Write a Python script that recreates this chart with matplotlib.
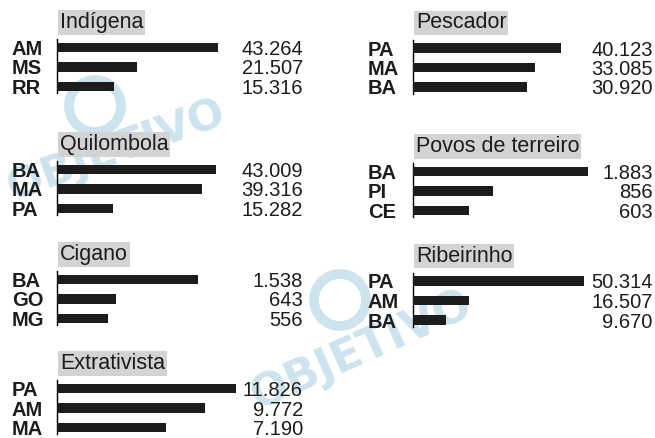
"""
Povos e comunidades tradicionais: os três estados com mais pessoas em cada grupo.
"""
import matplotlib
matplotlib.use("Agg")
import matplotlib.pyplot as plt
import matplotlib.transforms as mtransforms
from matplotlib.patches import Circle

plt.rcParams["font.family"] = ["Liberation Sans", "DejaVu Sans"]

# data, one small list per panel
groups = ["Indígena", "Quilombola", "Cigano", "Extrativista",
          "Pescador", "Povos de terreiro", "Ribeirinho"]
states = [
    ["AM", "MS", "RR"],
    ["BA", "MA", "PA"],
    ["BA", "GO", "MG"],
    ["PA", "AM", "MA"],
    ["PA", "MA", "BA"],
    ["BA", "PI", "CE"],
    ["PA", "AM", "BA"],
]
values = [
    [43264, 21507, 15316],
    [43009, 39316, 15282],
    [1538, 643, 556],
    [11826, 9772, 7190],
    [40123, 33085, 30920],
    [1883, 856, 603],
    [50314, 16507, 9670],
]

# layout (pixels on a 655x438 canvas)
W, H = 655, 438
col_axis_x = [57, 57, 57, 57, 413, 413, 413]      # x of the axis line
first_row_y = [47.5, 169.5, 279.5, 388.5, 48, 171.5, 281]
bar_px = [161, 159, 141, 179, 148, 175, 171]       # length of longest bar
label_x = [12, 12, 12, 12, 368, 368, 368]
value_x = [303, 303, 303, 303, 652.5, 652.5, 652.5]
row_step = 19.5
wm_color = "#cde4ee"


def fmt(v):
    return f"{v:,}".replace(",", ".")


fig = plt.figure(figsize=(W / 100, H / 100), dpi=100)

# watermark (logo ring + name), drawn behind everything
for (cx, cy) in [(95, 106), (340, 300)]:
    fig.patches.append(Circle((cx / 100, (H - cy) / 100), 0.26, fill=False,
                              linewidth=7, edgecolor=wm_color,
                              transform=fig.dpi_scale_trans, zorder=-2))
for (wx, wy, rot, fs) in [(116, 150, 20, 31), (362, 350, 24, 32)]:
    fig.text(wx / W, 1 - wy / H, "OBJETIVO", fontsize=fs, fontweight="bold",
             family="DejaVu Sans", color=wm_color, rotation=rot,
             ha="center", va="center", zorder=-1)

for i, grp in enumerate(groups):
    top = first_row_y[i] - 8.5
    bottom = first_row_y[i] + 2 * row_step + 6.5
    ax = fig.add_axes([col_axis_x[i] / W, 1 - bottom / H,
                       bar_px[i] / W, (bottom - top) / H])
    ax.patch.set_alpha(0)
    ax.barh(range(3), values[i], height=0.47, color="#1c1c1c", zorder=3)
    ax.set_xlim(0, max(values[i]))
    ax.set_ylim(2 + 6.5 / row_step, -8.5 / row_step)
    for side in ["top", "right", "bottom"]:
        ax.spines[side].set_visible(False)
    ax.spines["left"].set_linewidth(1.0)
    ax.set_xticks([])
    ax.set_yticks([])

    tr = mtransforms.blended_transform_factory(fig.transFigure, ax.transData)
    for j in range(3):
        fig.text(label_x[i] / W, j, states[i][j], transform=tr,
                 fontsize=14.5, fontweight="bold", color="#1c1c1c",
                 ha="left", va="center_baseline")
        fig.text(value_x[i] / W, j, fmt(values[i][j]), transform=tr,
                 fontsize=14.5, color="#1c1c1c",
                 ha="right", va="center_baseline")

    # title box above the bars
    title_y = first_row_y[i] - 25
    fig.text((col_axis_x[i] + 3) / W, 1 - title_y / H, grp,
             fontsize=15.5, color="#1c1c1c", ha="left", va="center",
             bbox=dict(boxstyle="square,pad=0.08", facecolor="#d3d3d3",
                       edgecolor="none"))

fig.savefig("out.png", dpi=100)
